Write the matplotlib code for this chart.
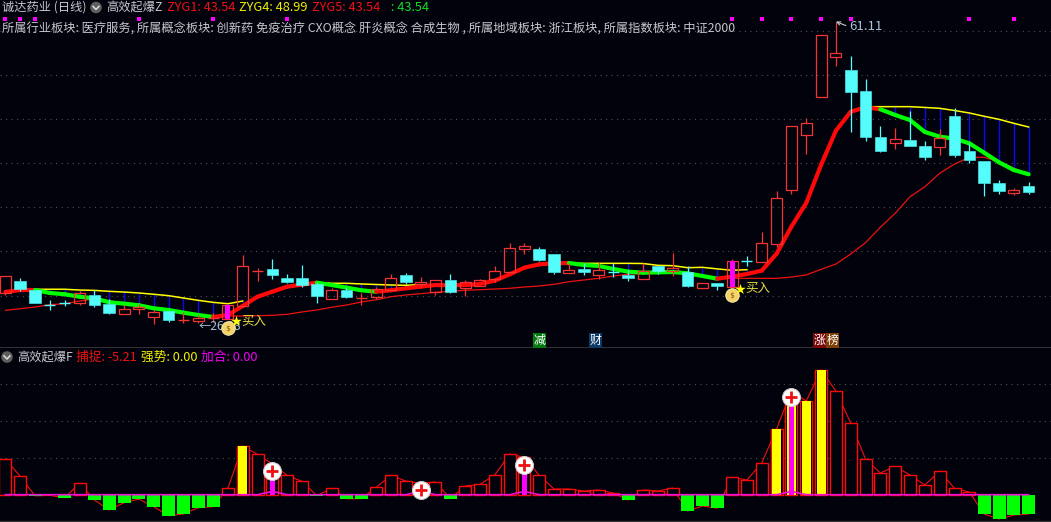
import numpy as np
import matplotlib
matplotlib.use("Agg")
import matplotlib.pyplot as plt
from matplotlib.patches import Circle
from matplotlib.lines import Line2D
from matplotlib.transforms import IdentityTransform

plt.rcParams['font.family'] = ['Noto Sans CJK SC', 'DejaVu Sans']

BG = '#02020d'
# top, bottom of each candle body, with high and low
body_top = [31.77,31.22,30.18,28.45,28.68,29.80,29.61,28.57,27.96,28.19,27.61,27.76,26.72,26.92,26.92,28.42,32.92,32.41,32.61,31.57,31.57,30.84,30.15,30.18,29.23,30.26,31.53,31.91,31.07,31.30,31.34,31.07,31.30,32.34,35.00,35.23,34.92,34.34,32.46,32.61,32.46,32.30,31.95,32.34,32.99,32.69,32.26,30.96,30.96,33.50,33.53,35.57,40.77,49.11,49.42,59.58,57.50,55.57,53.15,47.84,47.57,47.49,46.80,47.76,50.26,46.22,45.07,42.53,41.72,42.19]
body_bot = [29.80,30.26,28.68,28.45,28.68,28.65,28.45,27.53,27.45,28.03,27.10,26.72,26.72,26.64,26.92,26.84,28.34,32.30,31.95,31.11,30.80,29.53,29.18,29.41,29.23,29.41,30.18,31.11,30.88,29.99,29.95,30.45,30.68,31.45,32.30,34.95,33.65,32.26,32.18,32.30,31.95,32.30,31.57,31.45,32.38,32.34,30.65,30.45,30.65,30.56,33.53,33.45,35.53,41.76,48.04,52.49,57.11,53.07,47.84,46.26,47.11,46.84,45.57,46.72,45.76,45.19,42.57,41.61,41.41,41.49]
highs = [31.77,31.57,30.18,29.03,29.03,30.07,30.18,29.15,28.45,28.57,27.88,27.88,27.65,27.30,27.53,28.42,34.22,32.72,33.76,32.03,33.07,31.11,30.41,30.56,29.84,30.53,32.03,32.15,31.68,31.30,32.03,31.34,31.45,32.95,35.57,35.57,35.15,34.34,33.30,33.30,33.42,33.30,32.49,33.30,32.99,34.42,32.95,30.96,30.96,33.76,34.11,36.88,41.61,49.11,50.03,59.58,61.11,57.19,54.53,49.11,48.88,50.84,47.38,48.73,51.19,47.15,45.07,42.88,41.95,42.65]
lows = [29.61,30.07,28.68,27.88,28.34,28.45,28.22,27.41,27.45,27.41,26.26,26.53,26.41,26.38,26.45,26.84,28.22,31.26,31.45,30.99,30.56,28.72,29.18,29.30,28.45,29.11,30.18,30.88,30.56,29.61,29.84,29.53,30.68,31.14,32.15,34.34,33.53,32.03,32.18,31.91,31.45,31.72,31.26,31.45,32.03,31.83,30.53,30.45,30.18,30.56,32.95,33.45,35.18,41.30,45.91,52.49,56.07,48.45,47.41,46.11,46.49,46.84,45.19,45.76,45.57,44.87,41.07,41.30,41.18,41.30]
is_up = [1,0,0,0,0,1,0,0,1,1,1,0,1,1,1,1,1,1,0,0,0,0,1,0,1,1,1,0,1,1,0,1,1,1,1,1,0,0,1,0,1,0,0,1,0,1,0,1,0,1,0,1,1,1,1,1,1,0,0,0,1,0,0,1,0,0,0,0,1,0]

# trend line (thick), falling stretches are green
trend = [29.96,30.18,30.18,29.84,29.69,29.41,29.22,28.77,28.61,28.42,28.07,27.88,27.57,27.30,27.07,27.30,28.34,29.41,29.99,30.57,30.80,31.03,30.76,30.46,30.15,29.99,30.15,30.38,30.57,30.76,30.73,30.76,30.88,31.26,31.99,32.76,33.15,33.26,33.30,33.07,32.96,32.61,32.30,32.18,32.22,32.26,32.11,31.80,31.49,31.73,32.03,32.42,34.37,37.49,40.22,44.61,48.56,50.76,51.27,51.04,50.38,49.80,48.42,47.88,47.65,47.11,46.03,44.92,44.03,43.54]
trend_falling = [0,0,1,1,1,1,1,1,1,1,1,1,1,1,1,0,0,0,0,0,0,1,1,1,1,1,0,0,0,0,0,0,0,0,0,0,0,0,1,1,1,1,1,1,1,1,1,1,1,0,0,0,0,0,0,0,0,0,0,1,1,1,1,1,1,1,1,1,1,1]

# upper envelope (yellow), drawn only over falling stretches
N = np.nan
envelope = [N,N,30.27,30.27,30.27,30.18,30.14,30.03,29.95,29.84,29.69,29.53,29.26,28.99,28.76,28.60,28.91,N,N,N,N,31.03,30.96,30.96,30.88,30.82,30.76,30.73,30.80,30.80,30.76,N,N,N,N,N,N,33.33,33.30,33.26,33.26,33.26,33.26,33.24,33.03,32.99,32.76,32.80,32.62,32.46,32.53,N,N,N,N,N,N,N,51.34,51.34,51.34,51.34,51.25,51.15,50.90,50.61,50.23,49.88,49.42,48.99]

# slow average (thin red)
slow_avg = [27.84,28.03,28.22,28.49,28.60,28.91,29.15,28.95,28.60,28.42,28.07,27.88,27.56,27.30,27.15,27.18,27.18,27.22,27.26,27.38,27.65,27.88,28.19,28.45,28.80,29.06,29.41,29.61,29.76,29.92,30.03,30.15,30.22,30.30,30.38,30.53,30.65,30.84,31.14,31.34,31.53,31.80,32.00,32.11,32.18,32.23,32.18,31.80,31.53,31.53,31.53,31.53,31.53,31.68,31.92,32.57,33.18,34.34,35.65,37.42,39.04,40.95,42.10,43.65,44.72,45.50,45.50,44.99,44.26,43.54]

# lower pane
capture = [9.63,4.95,-0.30,-0.20,-0.81,3.06,-1.44,-4.14,-2.16,-1.17,-3.24,-5.67,-5.22,-3.51,-3.24,1.71,13.14,10.89,8.28,5.22,3.60,-0.27,1.71,-1.08,-1.08,1.98,5.22,3.69,3.06,3.42,-1.08,2.34,2.79,5.31,10.98,10.08,5.22,1.53,1.53,0.99,1.26,0.45,-1.44,1.26,0.99,1.80,-4.41,-3.06,-3.60,4.68,3.96,8.55,17.73,27.99,25.29,33.66,27.99,19.35,9.63,5.85,7.65,5.31,2.61,6.39,1.71,0.72,-5.22,-6.57,-5.49,-5.21]
strong_idx = [16,52,53,54,55]
add_idx = [18,28,35,53]
add_line = [0]*70
for k in add_idx:
    add_line[k] = 0.9

dot_idx = [0,1,2,9,14,19,49,51,53,55,57,65,68]
buy_idx = [15,49]
plus_idx = [18,28,35,53]
plus_val = [6.4,1.2,8.1,26.4]

main_ticks = [60.07,54.99,49.92,44.84,39.76,34.68,29.49]
sub_ticks = [10,20,30]

W, H = 1051, 522
fig = plt.figure(figsize=(W/100, H/100), dpi=100, facecolor=BG)

def frame(top, bottom):
    return [0, 1-bottom/H, 1, (bottom-top)/H]

ax = fig.add_axes(frame(0, 348), facecolor=BG)
sx = fig.add_axes(frame(349, 522), facecolor=BG)
X_PER = 14.83
XLIM = (-5.4/X_PER, (W-5.4)/X_PER)
for a in (ax, sx):
    a.set_xlim(*XLIM)
    a.set_xticks([])
    a.tick_params(left=False, labelleft=False)
    for s in a.spines.values():
        s.set_visible(False)
    a.set_axisbelow(True)
    a.grid(axis='y', color='#505050', linestyle=(0, (1, 4)), linewidth=0.8)
ax.set_ylim(63.65-0.1154*348, 63.65)
ax.set_yticks(main_ticks)
sx.set_ylim(-(522-494.7)*0.27, (494.7-349)*0.27)
sx.set_yticks(sub_ticks)
sx.axhline((494.7-520.7)*0.27, color='#333333', lw=1)
ax.axhline(63.65-0.1154*347.7, color='#3c3c3c', lw=1.2)

idx = np.arange(70)
top = np.array(body_top); bot = np.array(body_bot)
hi = np.array(highs); lo = np.array(lows)
up = np.array(is_up, bool)
tr = np.array(trend); fall = np.array(trend_falling, bool)
env = np.array(envelope)
has_env = ~np.isnan(env)

ax.plot(idx, slow_avg, color='#ee1111', lw=0.9, zorder=2)
ax.vlines(idx[has_env], tr[has_env], env[has_env], color='#0a0af0', lw=1.0, zorder=2.5)
ax.plot(idx, env, color='#ffff00', lw=1.1, zorder=3)
for i in range(69):
    both_green = fall[i] and fall[i+1]
    ax.plot(idx[i:i+2], tr[i:i+2], color='#00ff00' if both_green else '#ff0808', lw=3.0,
            solid_capstyle='round', zorder=4)

W_BODY = 11/14.83
for i in idx:
    c = '#f53333' if up[i] else '#54fcfc'
    ax.vlines(i, bot[i], lo[i], color=c, lw=0.9, zorder=5)
    ax.vlines(i, top[i], hi[i], color=c, lw=0.9, zorder=5)
    if abs(top[i]-bot[i]) < 0.15:
        ax.hlines(top[i], i-W_BODY/2, i+W_BODY/2, color=c, lw=1.0, zorder=6)
    elif up[i]:
        ax.bar(i, top[i]-bot[i], bottom=bot[i], width=W_BODY, facecolor='none', edgecolor=c, lw=0.9, zorder=6)
    else:
        ax.bar(i, top[i]-bot[i], bottom=bot[i], width=W_BODY+0.04, facecolor=c, edgecolor=c, lw=0.4, zorder=6)

for i in buy_idx:
    ax.bar(i, top[i]-bot[i], bottom=bot[i], width=5/14.83, color='#ff00ff', zorder=7)
    ax.scatter([i], [bot[i]-1.0], s=95, color='#f5d36a', edgecolor='#fff3b0', lw=0.6, zorder=8)
    ax.scatter([i], [bot[i]-1.0], s=22, marker=r'$\$$', color='#7a4a00', lw=0, zorder=9)
    ax.scatter([i+0.55], [bot[i]-0.25], s=65, marker='*', color='#ffff00', lw=0, zorder=9)
    ax.text(i+0.9, bot[i]-0.25, '买入', color='#e8e040', fontsize=9, ha='left', va='center', zorder=9)

ax.scatter(idx[dot_idx], [63.65-0.1154*19.3]*len(dot_idx), marker='s', s=7, color='#ff00ff', lw=0, zorder=3)

# high / low labels
ax.annotate('', xy=(56, 61.15), xytext=(56.67, 60.7),
            arrowprops=dict(arrowstyle='->', color='#c8c8c8', lw=0.8, mutation_scale=6, shrinkA=0, shrinkB=0), zorder=9)
ax.text(56.9, 60.55, '61.11', color='#a8c4d8', fontsize=9.5, va='center', ha='left', zorder=9)
ax.text(13, 26.0, '←26.38', color='#a8c4d8', fontsize=8.8, va='center', ha='left', zorder=7)

# tags
def tag(px, py, txt, col):
    fig.text(px/W, 1-py/H, txt, color='#ffffff', fontsize=8.6, ha='center', va='center',
             bbox=dict(boxstyle='square,pad=0.08', fc=col, ec='none'), zorder=10)
tag(539.5, 340.5, '减', '#047a10')
tag(595.5, 340.5, '财', '#0d3a66')
tag(820, 340.5, '涨', '#7a0a0a')
tag(832.5, 340.5, '榜', '#7e3f08')

# lower pane
val = np.array(capture)
sx.plot(idx, val, color='#f01010', lw=0.8, zorder=2)
BW = 12/14.83
pos = val > 0
sx.bar(idx[pos], val[pos], width=BW, facecolor=BG, edgecolor='#ff0808', lw=1.0, zorder=3)
sx.bar(idx[~pos], val[~pos], width=13/14.83, color='#00ff00', lw=0, zorder=3)
sx.bar(idx[strong_idx], val[strong_idx], width=9/14.83, color='#ffff00', lw=0, zorder=4)
sx.bar(idx[add_idx], val[add_idx], width=5/14.83, color='#ff00ff', lw=0, zorder=5)
sx.plot(idx, add_line, color='#ee10d8', lw=1.2, zorder=6)
sx.scatter(idx[plus_idx], plus_val, s=165, color='#ffffff', edgecolor='#cfcfcf', lw=0.8, zorder=7)
sx.scatter(idx[plus_idx], plus_val, s=70, marker='+', color='#ee1111', linewidths=2.0, zorder=8)

# headers
def label(px, py, s, col, size=8.8):
    fig.text(px/W, 1-py/H, s, color=col, fontsize=size, ha='left', va='center', zorder=11)
GR = '#c4c8cc'
label(2, 7.5, '诚达药业 (日线)', GR)
label(106, 7.5, '高效起爆Z', GR)
label(167, 7.5, 'ZYG1: 43.54', '#f01010', 9.2)
label(239, 7.5, 'ZYG4: 48.99', '#f0f000', 9.2)
label(312, 7.5, 'ZYG5: 43.54', '#f01010', 9.2)
label(391, 7.5, ': 43.54', '#10e020', 9.2)
label(2, 29, '所属行业板块: 医疗服务, 所属概念板块: 创新药 免疫治疗 CXO概念 肝炎概念 合成生物 , 所属地域板块: 浙江板块, 所属指数板块: 中证2000', GR)
label(17, 357, '高效起爆F', GR)
label(76, 357, '捕捉: -5.21', '#f01010', 9.2)
label(141, 357, '强势: 0.00', '#f0f000', 9.2)
label(201, 357, '加合: 0.00', '#f000f0', 9.2)
pix = IdentityTransform()
for py, px in ((7.5, 96), (357, 7)):
    fig.add_artist(Circle((px, H-py), 5.8, transform=pix, fc='#5e5e5e', ec='none', zorder=12))
    fig.add_artist(Line2D([px-3, px, px+3], [H-py+1.2, H-py-2, H-py+1.2], transform=pix,
                          color='#dddddd', lw=1.1, zorder=13))

fig.savefig('out.png', dpi=100, facecolor=BG)
